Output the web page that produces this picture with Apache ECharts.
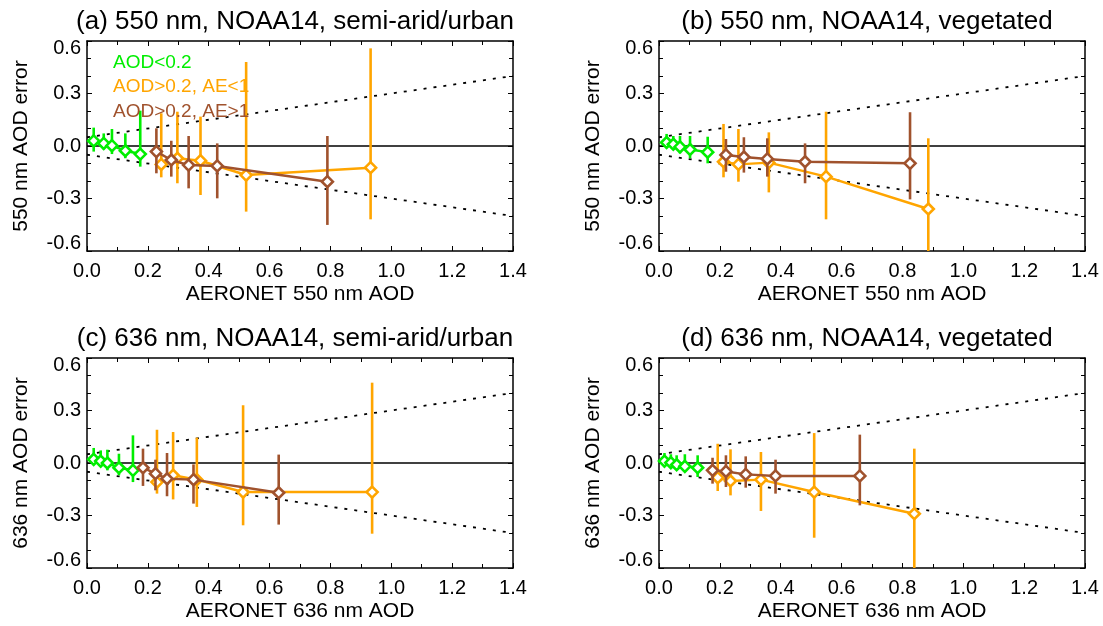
<!DOCTYPE html>
<html>
<head>
<meta charset="utf-8">
<script src="https://cdn.jsdelivr.net/npm/echarts@6/dist/echarts.min.js"></script>
<style>
  html, body { margin: 0; padding: 0; background: #fff; }
  #chart { width: 1103px; height: 626px; }
</style>
</head>
<body>
<div id="chart"></div>
<script>
// (a) 550 nm, semi-arid/urban
var a_green_x = [0.022, 0.055, 0.082, 0.126, 0.175];
var a_green_y = [0.029, 0.015, 0.002, -0.027, -0.046];
var a_green_hi = [0.105, 0.072, 0.097, 0.072, 0.202];
var a_green_lo = [-0.032, -0.019, -0.046, -0.070, -0.118];
var a_orange_x = [0.244, 0.297, 0.373, 0.523, 0.932];
var a_orange_y = [-0.105, -0.070, -0.084, -0.166, -0.124];
var a_orange_hi = [0.187, 0.196, 0.168, 0.480, 0.558];
var a_orange_lo = [-0.179, -0.213, -0.280, -0.375, -0.419];
var a_brown_x = [0.228, 0.277, 0.334, 0.428, 0.790];
var a_brown_y = [-0.032, -0.080, -0.109, -0.114, -0.204];
var a_brown_hi = [0.101, 0.030, 0.057, 0.015, 0.057];
var a_brown_lo = [-0.156, -0.175, -0.242, -0.299, -0.451];

// (b) 550 nm, vegetated
var b_green_x = [0.025, 0.047, 0.069, 0.102, 0.160];
var b_green_y = [0.020, 0.010, -0.005, -0.020, -0.035];
var b_green_hi = [0.069, 0.057, 0.057, 0.057, 0.053];
var b_green_lo = [-0.008, -0.023, -0.042, -0.070, -0.099];
var b_orange_x = [0.212, 0.261, 0.361, 0.549, 0.885];
var b_orange_y = [-0.090, -0.105, -0.095, -0.175, -0.360];
var b_orange_hi = [0.126, 0.097, 0.078, 0.196, 0.044];
var b_orange_lo = [-0.179, -0.204, -0.265, -0.419, -0.650];
var b_brown_x = [0.220, 0.279, 0.356, 0.480, 0.825];
var b_brown_y = [-0.051, -0.063, -0.074, -0.090, -0.099];
var b_brown_hi = [0.040, 0.050, 0.044, 0.015, 0.193];
var b_brown_lo = [-0.147, -0.152, -0.175, -0.213, -0.305];

// (c) 636 nm, semi-arid/urban
var c_green_x = [0.022, 0.045, 0.067, 0.105, 0.151];
var c_green_y = [0.021, 0.011, 0.000, -0.027, -0.042];
var c_green_hi = [0.086, 0.072, 0.076, 0.053, 0.158];
var c_green_lo = [-0.008, -0.019, -0.042, -0.070, -0.109];
var c_orange_x = [0.230, 0.283, 0.361, 0.513, 0.937];
var c_orange_y = [-0.109, -0.070, -0.095, -0.166, -0.166];
var c_orange_hi = [0.190, 0.177, 0.145, 0.330, 0.459];
var c_orange_lo = [-0.175, -0.208, -0.251, -0.356, -0.404];
var c_brown_x = [0.184, 0.225, 0.263, 0.350, 0.630];
var c_brown_y = [-0.027, -0.061, -0.090, -0.095, -0.170];
var c_brown_hi = [0.082, 0.019, 0.057, -0.008, 0.048];
var c_brown_lo = [-0.131, -0.156, -0.190, -0.232, -0.352];

// (d) 636 nm, vegetated
var d_green_x = [0.018, 0.039, 0.058, 0.085, 0.127];
var d_green_y = [0.011, 0.002, -0.010, -0.019, -0.027];
var d_green_hi = [0.057, 0.050, 0.044, 0.050, 0.044];
var d_green_lo = [-0.008, -0.019, -0.032, -0.051, -0.080];
var d_orange_x = [0.193, 0.235, 0.335, 0.510, 0.839];
var d_orange_y = [-0.084, -0.103, -0.095, -0.166, -0.290];
var d_orange_hi = [0.110, 0.078, 0.063, 0.171, 0.082];
var d_orange_lo = [-0.160, -0.185, -0.274, -0.427, -0.650];
var d_brown_x = [0.176, 0.220, 0.285, 0.383, 0.660];
var d_brown_y = [-0.042, -0.048, -0.065, -0.074, -0.074];
var d_brown_hi = [0.030, 0.044, 0.038, 0.019, 0.162];
var d_brown_lo = [-0.118, -0.137, -0.141, -0.175, -0.242];

// expected error envelope +/-(0.05 + 0.25 tau)
var env_x = [0.0, 1.4];
var env_up = [0.05, 0.40];
var env_lo = [-0.05, -0.40];

var legend_labels = ['AOD<0.2', 'AOD>0.2, AE<1', 'AOD>0.2, AE>1'];
var GREEN = '#00ee00', ORANGE = '#ffa500', BROWN = '#a0522d';
var FONT = 'Liberation Sans, Arial, Helvetica, sans-serif';

var panels = [
    { title: '(a) 550 nm, NOAA14, semi-arid/urban', xname: 'AERONET 550 nm AOD', yname: '550 nm AOD error',
      left: 87, top: 41,
      groups: [[a_green_x, a_green_y, a_green_lo, a_green_hi], [a_orange_x, a_orange_y, a_orange_lo, a_orange_hi], [a_brown_x, a_brown_y, a_brown_lo, a_brown_hi]] },
    { title: '(b) 550 nm, NOAA14, vegetated', xname: 'AERONET 550 nm AOD', yname: '550 nm AOD error',
      left: 659, top: 41,
      groups: [[b_green_x, b_green_y, b_green_lo, b_green_hi], [b_orange_x, b_orange_y, b_orange_lo, b_orange_hi], [b_brown_x, b_brown_y, b_brown_lo, b_brown_hi]] },
    { title: '(c) 636 nm, NOAA14, semi-arid/urban', xname: 'AERONET 636 nm AOD', yname: '636 nm AOD error',
      left: 87, top: 358,
      groups: [[c_green_x, c_green_y, c_green_lo, c_green_hi], [c_orange_x, c_orange_y, c_orange_lo, c_orange_hi], [c_brown_x, c_brown_y, c_brown_lo, c_brown_hi]] },
    { title: '(d) 636 nm, NOAA14, vegetated', xname: 'AERONET 636 nm AOD', yname: '636 nm AOD error',
      left: 659, top: 358,
      groups: [[d_green_x, d_green_y, d_green_lo, d_green_hi], [d_orange_x, d_orange_y, d_orange_lo, d_orange_hi], [d_brown_x, d_brown_y, d_brown_lo, d_brown_hi]] }
];
var colors = [GREEN, ORANGE, BROWN];
var GW = 426, GH = 210;

function zip(xs, ys) {
    var out = [];
    for (var i = 0; i < xs.length; i++) out.push([xs[i], ys[i]]);
    return out;
}

function render_errbar(params, api) {
    var p1 = api.coord([api.value(0), api.value(1)]);
    var p2 = api.coord([api.value(0), api.value(2)]);
    return {
        type: 'line',
        shape: { x1: p1[0], y1: p1[1], x2: p2[0], y2: p2[1] },
        style: { stroke: api.visual('color'), lineWidth: 2.6 }
    };
}

function ylabel(v) {
    var r = Math.round(v * 10);
    var s = (r / 10).toFixed(1);
    if (r === 6) return '{mx|' + s + '}';
    if (r === -6) return '{mn|' + s + '}';
    return s;
}

var option = {
    animation: false,
    backgroundColor: '#fff',
    title: [], grid: [], xAxis: [], yAxis: [], series: [], graphic: []
};

var axcol = '#000';
panels.forEach(function (p, k) {
    option.title.push({
        text: p.title, left: p.left + GW / 2 - 5, top: p.top - 32, textAlign: 'center', padding: 0,
        textStyle: { fontFamily: FONT, fontSize: 26, fontWeight: 'normal', color: '#000' }
    });
    option.grid.push({ left: p.left, top: p.top, width: GW, height: GH });

    var tick = { show: true, inside: true, length: 5, lineStyle: { color: axcol, width: 1 } };
    var minor = { show: true, splitNumber: 2, length: 4, lineStyle: { color: axcol, width: 1 } };
    var line = { show: true, onZero: false, lineStyle: { color: axcol, width: 1.5 } };

    option.xAxis.push({
        type: 'value', gridIndex: k, min: 0, max: 1.4, interval: 0.2, position: 'bottom',
        axisLine: line, axisTick: tick, minorTick: minor, splitLine: { show: false },
        axisLabel: { fontFamily: FONT, fontSize: 20, color: '#000', margin: 10,
            formatter: function (v) { return v.toFixed(1); } },
        name: p.xname, nameLocation: 'middle', nameGap: 33,
        nameTextStyle: { fontFamily: FONT, fontSize: 21, color: '#000' }
    });
    option.xAxis.push({
        type: 'value', gridIndex: k, min: 0, max: 1.4, interval: 0.2, position: 'top',
        axisLine: line, axisTick: tick, minorTick: minor, splitLine: { show: false },
        axisLabel: { show: false }
    });
    var yminor = { show: true, splitNumber: 3, length: 4, lineStyle: { color: axcol, width: 1 } };
    option.yAxis.push({
        type: 'value', gridIndex: k, min: -0.6, max: 0.6, interval: 0.3, position: 'left',
        axisLine: line, axisTick: tick, minorTick: yminor, splitLine: { show: false },
        axisLabel: { fontFamily: FONT, fontSize: 20, color: '#000', margin: 6, formatter: ylabel,
            rich: {
                mx: { fontFamily: FONT, fontSize: 20, color: '#000', padding: [14, 0, 0, 0] },
                mn: { fontFamily: FONT, fontSize: 20, color: '#000', padding: [0, 0, 16, 0] }
            } },
        name: p.yname, nameLocation: 'middle', nameGap: 55,
        nameTextStyle: { fontFamily: FONT, fontSize: 21, color: '#000' }
    });
    option.yAxis.push({
        type: 'value', gridIndex: k, min: -0.6, max: 0.6, interval: 0.3, position: 'right',
        axisLine: line, axisTick: tick, minorTick: yminor, splitLine: { show: false },
        axisLabel: { show: false }
    });

    var xi = 2 * k, yi = 2 * k;
    // envelope and zero line
    option.series.push({
        type: 'line', xAxisIndex: xi, yAxisIndex: yi, data: zip(env_x, env_up), symbol: 'none', silent: true,
        lineStyle: { color: '#000', width: 1.8, type: [3, 7] }, z: 1
    });
    option.series.push({
        type: 'line', xAxisIndex: xi, yAxisIndex: yi, data: zip(env_x, env_lo), symbol: 'none', silent: true,
        lineStyle: { color: '#000', width: 1.8, type: [3, 7] }, z: 1
    });
    option.series.push({
        type: 'line', xAxisIndex: xi, yAxisIndex: yi, data: [[0, 0], [1.4, 0]], symbol: 'none', silent: true,
        lineStyle: { color: '#000', width: 1.6 }, z: 1
    });

    p.groups.forEach(function (g, j) {
        var c = colors[j];
        var bars = [];
        for (var i = 0; i < g[0].length; i++) bars.push([g[0][i], g[2][i], g[3][i]]);
        option.series.push({
            type: 'custom', xAxisIndex: xi, yAxisIndex: yi, renderItem: render_errbar, clip: true,
            encode: { x: 0, y: [1, 2] }, data: bars, itemStyle: { color: c }, z: 2 + j * 2
        });
        option.series.push({
            type: 'line', xAxisIndex: xi, yAxisIndex: yi, data: zip(g[0], g[1]),
            symbol: 'diamond', symbolSize: 11, showSymbol: true, clip: true,
            lineStyle: { color: c, width: 2.5 },
            itemStyle: { color: '#fff', borderColor: c, borderWidth: 2.6 }, z: 3 + j * 2
        });
    });
});

// legend text inside panel (a)
legend_labels.forEach(function (t, i) {
    option.graphic.push({
        type: 'text', left: 113, top: 53 + i * 24.5, z: 20,
        style: { text: t, fill: colors[i], fontFamily: FONT, fontSize: 19 }
    });
});

var myChart = echarts.init(document.getElementById('chart'));
myChart.setOption(option);
</script>
</body>
</html>
